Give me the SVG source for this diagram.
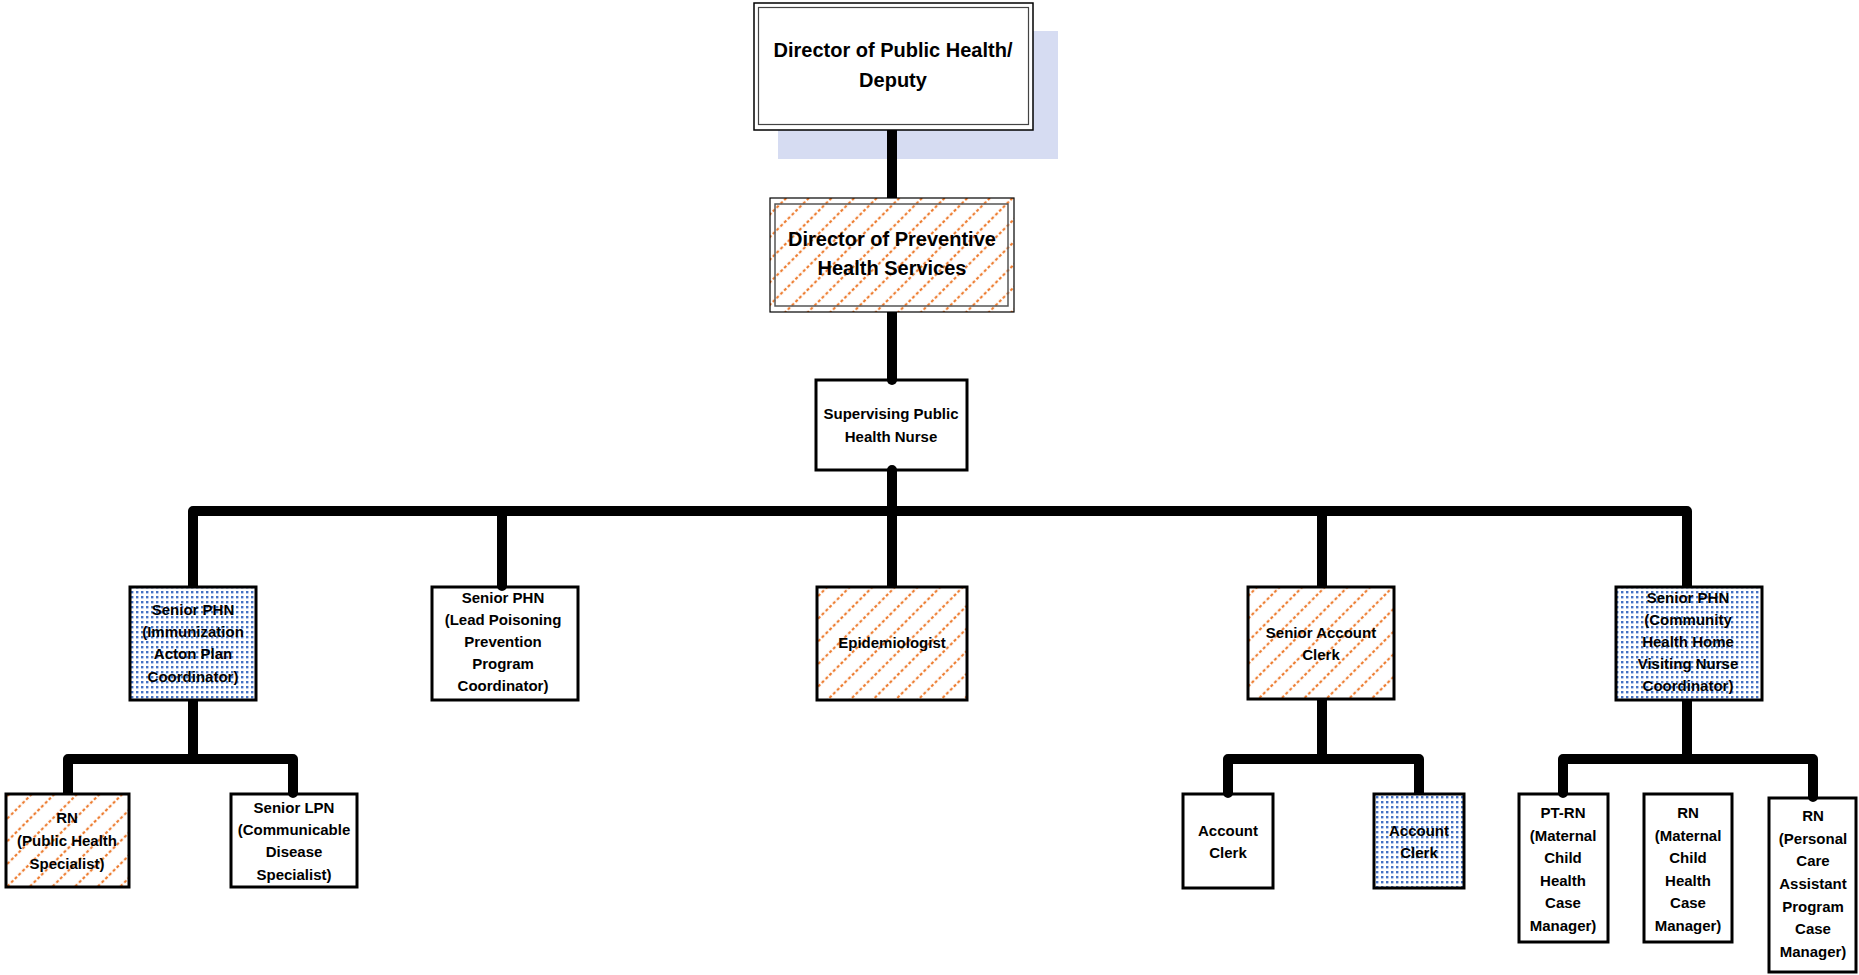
<svg xmlns="http://www.w3.org/2000/svg" width="1859" height="975" viewBox="0 0 1859 975">
<style>
text{font-family:"Liberation Sans",Arial,sans-serif;font-weight:bold;fill:#000;text-anchor:middle}
.big{font-size:20px}
.sm{font-size:15px}
.box{stroke:#000;stroke-width:3}
.plain{fill:none}
.hatch{fill:url(#hatch)}
.dots{fill:url(#dots)}
.conn{fill:none;stroke:#000;stroke-width:10;stroke-linecap:round;stroke-linejoin:round}
</style>
<defs>
<pattern id="hatch" patternUnits="userSpaceOnUse" width="16" height="16" patternTransform="rotate(45)">
<rect width="16" height="16" fill="#fff"/>
<line x1="8" y1="0" x2="8" y2="16" stroke="#ed7d31" stroke-width="2.2" stroke-dasharray="3 2.33"/>
</pattern>
<pattern id="dots" patternUnits="userSpaceOnUse" width="10" height="10">
<rect width="10" height="10" fill="#fff"/>
<rect x="1" y="1" width="2.4" height="2.4" fill="#4472c4"/>
<rect x="6" y="6" width="2.4" height="2.4" fill="#4472c4"/>
<rect x="6" y="1" width="2.4" height="2.4" fill="#4472c4"/>
<rect x="1" y="6" width="2.4" height="2.4" fill="#4472c4"/>
</pattern>
</defs>
<rect width="1859" height="975" fill="#fff"/>
<rect x="778" y="31" width="280" height="128" fill="#d6dcf2"/>
<g id="connectors">
<path class="conn" d="M892 130 V198"/>
<path class="conn" d="M892 312 V380"/>
<path class="conn" d="M892 470 V586 M193 586 V511 H1687 V586 M502 511 V586 M1322 511 V586"/>
<path class="conn" d="M193 700 V759 M68 793 V759 H293 V793"/>
<path class="conn" d="M1322 699 V759 M1228 793 V759 H1419 V793"/>
<path class="conn" d="M1687 700 V759 M1563 793 V759 H1813 V797"/>
</g>
<g id="n-director-public-health">
<rect x="754" y="3" width="279" height="127" fill="#fff" stroke="#000" stroke-width="1.5"/>
<rect x="758.5" y="7.5" width="270" height="117" fill="none" stroke="#444" stroke-width="1.2"/>
<text class="big" x="893" y="57">Director of Public Health/</text>
<text class="big" x="893" y="87">Deputy</text>
</g>
<g id="n-director-preventive">
<rect x="770" y="198" width="244" height="114" class="hatch" stroke="#000" stroke-width="1.2"/>
<rect x="775" y="204" width="233" height="102" fill="none" stroke="#555" stroke-width="1.5"/>
<text class="big" x="892" y="246">Director of Preventive</text>
<text class="big" x="892" y="275">Health Services</text>
</g>
<g id="n-supervising">
<rect x="816" y="380" width="151" height="90" class="box plain" stroke-width="2.5"/>
<text class="sm" x="891" y="419">Supervising Public</text>
<text class="sm" x="891" y="442">Health Nurse</text>
</g>
<g id="n-senior-phn-immunization">
<rect x="130" y="587" width="126" height="113" class="box dots"/>
<text class="sm" x="193" y="615">Senior PHN</text>
<text class="sm" x="193" y="637">(Immunization</text>
<text class="sm" x="193" y="659">Acton Plan</text>
<text class="sm" x="193" y="682">Coordinator)</text>
</g>
<g id="n-senior-phn-lead">
<rect x="432" y="587" width="146" height="113" class="box plain"/>
<text class="sm" x="503" y="603">Senior PHN</text>
<text class="sm" x="503" y="625">(Lead Poisoning</text>
<text class="sm" x="503" y="647">Prevention</text>
<text class="sm" x="503" y="669">Program</text>
<text class="sm" x="503" y="691">Coordinator)</text>
</g>
<g id="n-epidemiologist">
<rect x="817" y="587" width="150" height="113" class="box hatch"/>
<text class="sm" x="892" y="648">Epidemiologist</text>
</g>
<g id="n-senior-account-clerk">
<rect x="1248" y="587" width="146" height="112" class="box hatch"/>
<text class="sm" x="1321" y="638">Senior Account</text>
<text class="sm" x="1321" y="660">Clerk</text>
</g>
<g id="n-senior-phn-community">
<rect x="1616" y="587" width="146" height="113" class="box dots"/>
<text class="sm" x="1688" y="603">Senior PHN</text>
<text class="sm" x="1688" y="625">(Community</text>
<text class="sm" x="1688" y="647">Health Home</text>
<text class="sm" x="1688" y="669">Visiting Nurse</text>
<text class="sm" x="1688" y="691">Coordinator)</text>
</g>
<g id="n-rn-public-health">
<rect x="6" y="794" width="123" height="93" class="box hatch"/>
<text class="sm" x="67" y="823">RN</text>
<text class="sm" x="67" y="846">(Public Health</text>
<text class="sm" x="67" y="869">Specialist)</text>
</g>
<g id="n-senior-lpn">
<rect x="231" y="794" width="126" height="93" class="box plain"/>
<text class="sm" x="294" y="813">Senior LPN</text>
<text class="sm" x="294" y="835">(Communicable</text>
<text class="sm" x="294" y="857">Disease</text>
<text class="sm" x="294" y="880">Specialist)</text>
</g>
<g id="n-account-clerk-1">
<rect x="1183" y="794" width="90" height="94" class="box plain"/>
<text class="sm" x="1228" y="836">Account</text>
<text class="sm" x="1228" y="858">Clerk</text>
</g>
<g id="n-account-clerk-2">
<rect x="1374" y="794" width="90" height="94" class="box dots"/>
<text class="sm" x="1419" y="836">Account</text>
<text class="sm" x="1419" y="858">Clerk</text>
</g>
<g id="n-pt-rn">
<rect x="1519" y="794" width="89" height="148" class="box plain"/>
<text class="sm" x="1563" y="818">PT-RN</text>
<text class="sm" x="1563" y="841">(Maternal</text>
<text class="sm" x="1563" y="863">Child</text>
<text class="sm" x="1563" y="886">Health</text>
<text class="sm" x="1563" y="908">Case</text>
<text class="sm" x="1563" y="931">Manager)</text>
</g>
<g id="n-rn-maternal">
<rect x="1644" y="794" width="88" height="148" class="box plain"/>
<text class="sm" x="1688" y="818">RN</text>
<text class="sm" x="1688" y="841">(Maternal</text>
<text class="sm" x="1688" y="863">Child</text>
<text class="sm" x="1688" y="886">Health</text>
<text class="sm" x="1688" y="908">Case</text>
<text class="sm" x="1688" y="931">Manager)</text>
</g>
<g id="n-rn-personal-care">
<rect x="1769" y="798" width="87" height="174" class="box plain"/>
<text class="sm" x="1813" y="821">RN</text>
<text class="sm" x="1813" y="844">(Personal</text>
<text class="sm" x="1813" y="866">Care</text>
<text class="sm" x="1813" y="889">Assistant</text>
<text class="sm" x="1813" y="912">Program</text>
<text class="sm" x="1813" y="934">Case</text>
<text class="sm" x="1813" y="957">Manager)</text>
</g>
</svg>
